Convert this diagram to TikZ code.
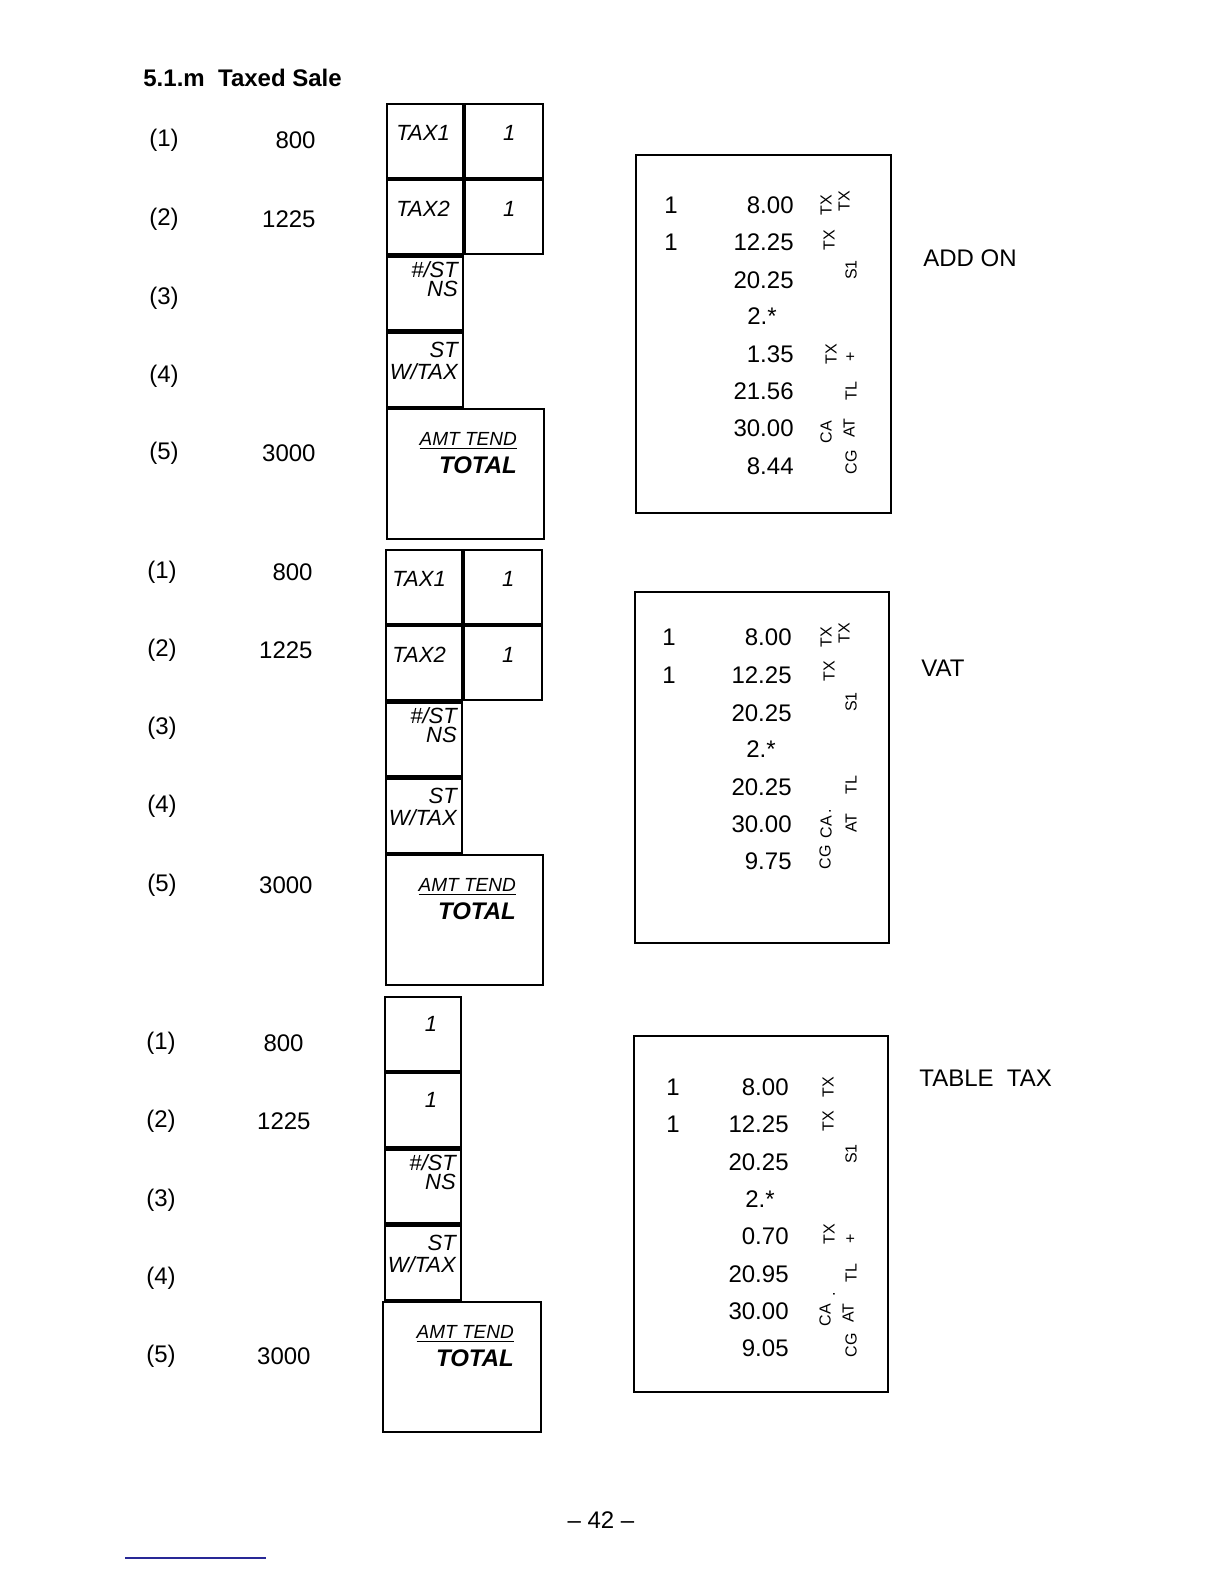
\documentclass[tikz,border=0pt]{standalone}
\usepackage{fontspec}
\setmainfont{Liberation Sans}
\usetikzlibrary{positioning}
\definecolor{scanblue}{RGB}{40,40,150}
\tikzset{keybox/.style={draw, line width=1.1pt, minimum width=38pt, minimum height=37pt, inner sep=0pt}, amtbox/.style={draw, line width=1.1pt, minimum width=78.5pt, minimum height=65pt, inner sep=0pt, anchor=north west}, keytxt/.style={inner sep=0pt, font=\itshape\fontsize{11}{12}\selectfont}, rcptbox/.style={draw, line width=0.8pt, inner sep=0pt, anchor=north west}, rtxt/.style={inner sep=0pt, font=\fontsize{12}{14}\selectfont}, rot/.style={inner sep=0pt, rotate=90, font=\fontsize{8}{9}\selectfont}, lbl/.style={inner sep=0pt, font=\fontsize{12}{14}\selectfont}, head/.style={inner sep=0pt, font=\bfseries\fontsize{12}{14}\selectfont}}

\begin{document}
\begin{tikzpicture}[x=0.5pt,y=-0.5pt]
\useasboundingbox (0,0) rectangle (1224,1584);
\node[head,anchor=west] (title) at (143,78) {5.1.m\ \ Taxed Sale};
% add on
\foreach \n/\y in {1/140,2/219,3/298,4/376,5/453} \node[lbl] (sa\n) at (164,\y) {(\n)};
\node[lbl,anchor=east] (sav1) at (316,140) {800};
\node[lbl,anchor=east] (sav2) at (316,219) {1225};
\node[lbl,anchor=east] (sav5) at (316,453) {3000};
\node[keybox,anchor=north west] (taxa1) at (386,103) {};
\node[keybox,right=0pt of taxa1,minimum width=39pt] (onea1) {};
\node[keybox,below=0pt of taxa1] (taxb1) {};
\node[keybox,right=0pt of taxb1,minimum width=39pt] (oneb1) {};
\node[keybox,below=0pt of taxb1] (nsa1) {};
\node[keybox,below=0pt of nsa1] (stw1) {};
\node[amtbox] (amt1) at (stw1.south west) {};
\node[keytxt,below right=11pt and 5pt of taxa1.north west] (taxa1t) {TAX1};
\node[keytxt,below=11pt of onea1.north,xshift=2.5pt] (onea1t) {1};
\node[keytxt,below right=11pt and 5pt of taxb1.north west] (taxb1t) {TAX2};
\node[keytxt,below=11pt of oneb1.north,xshift=2.5pt] (oneb1t) {1};
\node[keytxt,align=right,below left=3pt and 3pt of nsa1.north east] (nsa1t) {\#/ST\\[-2.5pt]NS};
\node[keytxt,align=right,below left=5pt and 3pt of stw1.north east] (stw1t) {ST\\[-1pt]W/TAX};
\node[keytxt,align=right,below left=12pt and 14pt of amt1.north east] (amt1t) {{\fontsize{9.5}{11}\selectfont\underline{AMT TEND}}\\[2pt]{\bfseries\fontsize{12}{13}\selectfont TOTAL}};
\node[rcptbox,minimum width=127.5pt,minimum height=179pt] (ra) at (635,154) {};
\node[rtxt] (raq1) at (671,205) {1};
\node[rtxt] (raq2) at (671,242) {1};
\foreach \v/\y [count=\i] in {8.00/205,12.25/242,20.25/280,1.35/354,21.56/391,30.00/428,8.44/466} \node[rtxt,anchor=east] (ra\i) at (794,\y) {\v};
\node[rtxt,anchor=east] (rastar) at (777,316) {2.*};
\node[rot] (ratx1) at (826,205) {TX};
\node[rot] (ratx1b) at (844,201) {TX};
\node[rot] (ratx2) at (829,240) {TX};
\node[rot] (ras1) at (851,270) {S1};
\node[rot] (ratx5) at (831,354) {TX};
\node[rot] (raplus) at (851,357) {+};
\node[rot] (ratl) at (851,391) {TL};
\node[rot] (raca) at (826,432) {CA};
\node[rot] (raat) at (849,428) {AT};
\node[rot] (racg) at (851,462) {CG};
\node[lbl,anchor=west] (addon) at (923,258) {ADD ON};
% vat
\foreach \n/\y in {1/572,2/650,3/728,4/806,5/885} \node[lbl] (sb\n) at (162,\y) {(\n)};
\node[lbl,anchor=east] (sbv1) at (313,572) {800};
\node[lbl,anchor=east] (sbv2) at (313,650) {1225};
\node[lbl,anchor=east] (sbv5) at (313,885) {3000};
\node[keybox,anchor=north west] (taxa2) at (385,549) {};
\node[keybox,right=0pt of taxa2,minimum width=39pt] (onea2) {};
\node[keybox,below=0pt of taxa2] (taxb2) {};
\node[keybox,right=0pt of taxb2,minimum width=39pt] (oneb2) {};
\node[keybox,below=0pt of taxb2] (nsa2) {};
\node[keybox,below=0pt of nsa2] (stw2) {};
\node[amtbox] (amt2) at (stw2.south west) {};
\node[keytxt,below right=11pt and 3.5pt of taxa2.north west] (taxa2t) {TAX1};
\node[keytxt,below=11pt of onea2.north,xshift=2.5pt] (onea2t) {1};
\node[keytxt,below right=11pt and 3.5pt of taxb2.north west] (taxb2t) {TAX2};
\node[keytxt,below=11pt of oneb2.north,xshift=2.5pt] (oneb2t) {1};
\node[keytxt,align=right,below left=3pt and 3pt of nsa2.north east] (nsa2t) {\#/ST\\[-2.5pt]NS};
\node[keytxt,align=right,below left=5pt and 3pt of stw2.north east] (stw2t) {ST\\[-1pt]W/TAX};
\node[keytxt,align=right,below left=12pt and 14pt of amt2.north east] (amt2t) {{\fontsize{9.5}{11}\selectfont\underline{AMT TEND}}\\[2pt]{\bfseries\fontsize{12}{13}\selectfont TOTAL}};
\node[rcptbox,minimum width=127pt,minimum height=175.5pt] (rb) at (634,591) {};
\node[rtxt] (rbq1) at (669,637) {1};
\node[rtxt] (rbq2) at (669,675) {1};
\foreach \v/\y [count=\i] in {8.00/637,12.25/675,20.25/713,20.25/787,30.00/824,9.75/861} \node[rtxt,anchor=east] (rb\i) at (792,\y) {\v};
\node[rtxt,anchor=east] (rbstar) at (776,749) {2.*};
\node[rot] (rbtx1) at (826,637) {TX};
\node[rot] (rbtx1b) at (844,633) {TX};
\node[rot] (rbtx2) at (829,671) {TX};
\node[rot] (rbs1) at (851,702) {S1};
\node[rot] (rbtl) at (851,785) {TL};
\node[rot] (rbdot) at (830,811) {.};
\node[rot] (rbca) at (826,827) {CA};
\node[rot] (rbat) at (851,823) {AT};
\node[rot] (rbcg) at (825,857) {CG};
\node[lbl,anchor=west] (vat) at (921,668) {VAT};
% table tax
\foreach \n/\y in {1/1043,2/1121,3/1200,4/1278,5/1356} \node[lbl] (sc\n) at (161,\y) {(\n)};
\node[lbl,anchor=east] (scv1) at (304,1043) {800};
\node[lbl,anchor=east] (scv2) at (311,1121) {1225};
\node[lbl,anchor=east] (scv5) at (311,1356) {3000};
\node[keybox,anchor=north west] (onea3) at (384,996) {};
\node[keybox,below=0pt of onea3] (oneb3) {};
\node[keybox,below=0pt of oneb3] (nsa3) {};
\node[keybox,below=0pt of nsa3] (stw3) {};
\node[amtbox,minimum width=79pt] (amt3) at ([xshift=-1pt]stw3.south west) {};
\node[keytxt,below=10pt of onea3.north,xshift=4pt] (onea3t) {1};
\node[keytxt,below=10pt of oneb3.north,xshift=4pt] (oneb3t) {1};
\node[keytxt,align=right,below left=3pt and 3pt of nsa3.north east] (nsa3t) {\#/ST\\[-2.5pt]NS};
\node[keytxt,align=right,below left=5pt and 3pt of stw3.north east] (stw3t) {ST\\[-1pt]W/TAX};
\node[keytxt,align=right,below left=12pt and 14pt of amt3.north east] (amt3t) {{\fontsize{9.5}{11}\selectfont\underline{AMT TEND}}\\[2pt]{\bfseries\fontsize{12}{13}\selectfont TOTAL}};
\node[rcptbox,minimum width=127pt,minimum height=178pt] (rc) at (633,1035) {};
\node[rtxt] (rcq1) at (673,1087) {1};
\node[rtxt] (rcq2) at (673,1124) {1};
\foreach \v/\y [count=\i] in {8.00/1087,12.25/1124,20.25/1162,0.70/1236,20.95/1274,30.00/1311,9.05/1348} \node[rtxt,anchor=east] (rc\i) at (789,\y) {\v};
\node[rtxt,anchor=east] (rcstar) at (775,1199) {2.*};
\node[rot] (rctx1) at (828,1087) {TX};
\node[rot] (rctx2) at (828,1121) {TX};
\node[rot] (rcs1) at (851,1154) {S1};
\node[rot] (rctx5) at (829,1234) {TX};
\node[rot] (rcplus) at (851,1239) {+};
\node[rot] (rctl) at (851,1273) {TL};
\node[rot] (rcdot) at (834,1294) {.};
\node[rot] (rcca) at (825,1315) {CA};
\node[rot] (rcat) at (848,1313) {AT};
\node[rot] (rccg) at (851,1345) {CG};
\node[lbl,anchor=west] (tabletax) at (919,1078) {TABLE\ \ TAX};
% page foot
\node[lbl] (page) at (601,1520) {-- 42 --};
\draw[scanblue,line width=0.6pt] (125,1558) -- (266,1558);
\end{tikzpicture}
\end{document}
